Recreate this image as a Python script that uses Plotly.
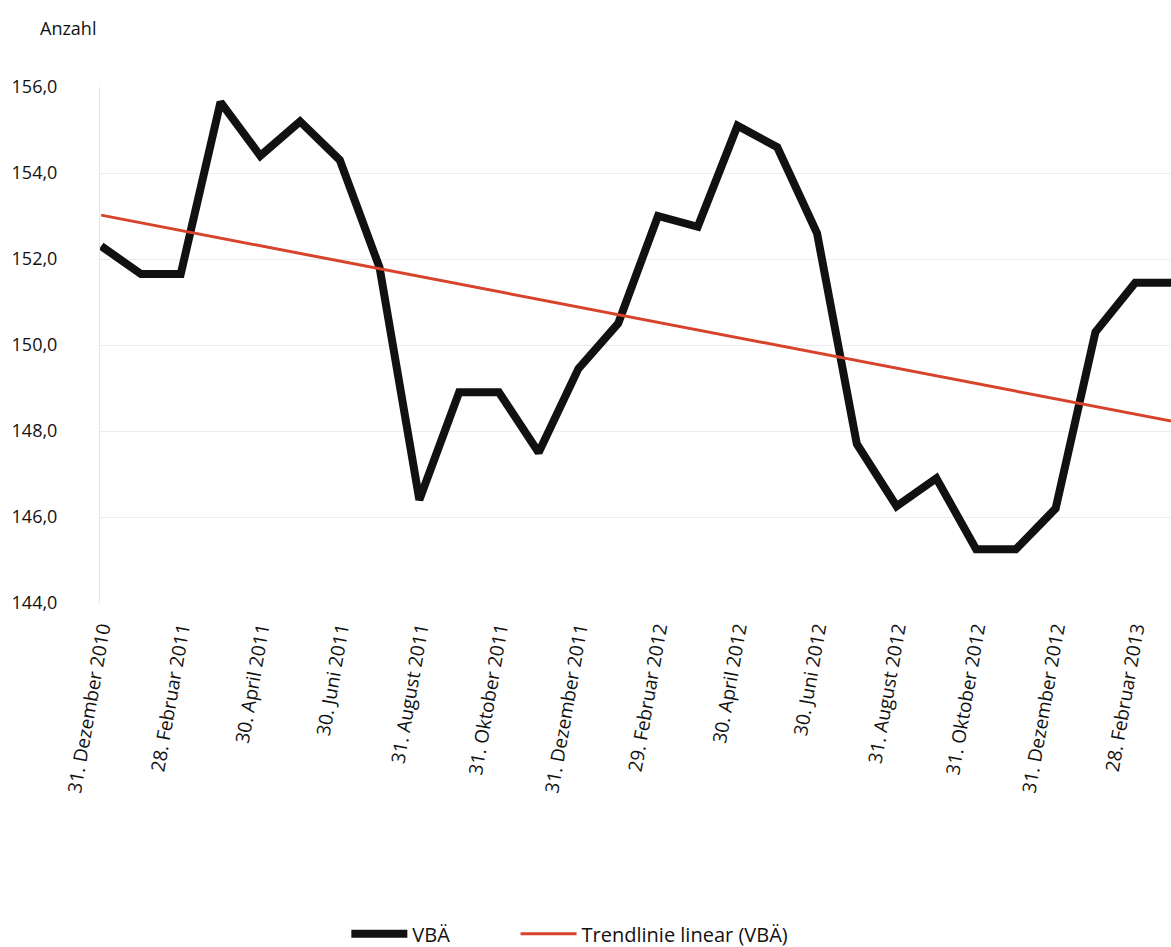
import numpy as np
import plotly.graph_objects as go

dates = [
    "31. Dezember 2010", "31. Januar 2011", "28. Februar 2011", "31. März 2011",
    "30. April 2011", "31. Mai 2011", "30. Juni 2011", "31. Juli 2011",
    "31. August 2011", "30. September 2011", "31. Oktober 2011", "30. November 2011",
    "31. Dezember 2011", "31. Januar 2012", "29. Februar 2012", "31. März 2012",
    "30. April 2012", "31. Mai 2012", "30. Juni 2012", "31. Juli 2012",
    "31. August 2012", "30. September 2012", "31. Oktober 2012", "30. November 2012",
    "31. Dezember 2012", "31. Januar 2013", "28. Februar 2013", "31. März 2013",
]
vba = [
    152.3, 151.65, 151.65, 155.65, 154.4, 155.2, 154.3, 151.8,
    146.4, 148.9, 148.9, 147.5, 149.45, 150.5, 153.0, 152.75,
    155.1, 154.6, 152.6, 147.7, 146.25, 146.9, 145.25, 145.25,
    146.2, 150.3, 151.45, 151.45,
]
trend_start = 153.02
trend_slope = -0.178
tick_dates = dates[::2]

idx = np.arange(len(vba))
trend = [trend_start + trend_slope * i for i in idx]

FONT = "Open Sans"

fig = go.Figure()
fig.add_trace(go.Scatter(
    x=dates, y=vba, mode="lines", name="VBÄ", legend="legend",
    line=dict(color="#111111", width=8),
))
fig.add_trace(go.Scatter(
    x=dates, y=trend, mode="lines", name="Trendlinie linear (VBÄ)", legend="legend2",
    line=dict(color="#d8432b", width=3),
))

fig.update_layout(
    width=1171, height=947,
    margin=dict(l=100, r=0, t=87, b=344, autoexpand=False),
    paper_bgcolor="white", plot_bgcolor="white",
    separators=",.",
    font=dict(family=FONT, size=18, color="#111111"),
    showlegend=True,
    legend=dict(orientation="h", x=0.23, xanchor="left", y=-0.641, yanchor="middle",
                font=dict(size=20), itemwidth=56, bgcolor="rgba(0,0,0,0)"),
    legend2=dict(orientation="h", x=0.388, xanchor="left", y=-0.641, yanchor="middle",
                 font=dict(size=20), itemwidth=56, bgcolor="rgba(0,0,0,0)"),
    annotations=[dict(text="Anzahl", xref="paper", yref="paper", x=-0.058, y=1.114,
                      xanchor="left", yanchor="middle", showarrow=False,
                      font=dict(size=18))],
)
fig.update_xaxes(
    type="category", range=[-0.03, 26.9],
    tickmode="array", tickvals=tick_dates, ticktext=tick_dates,
    tickangle=-80, showgrid=False, showline=False, zeroline=False,
    ticks="", tickfont=dict(size=19), ticklabelstandoff=10,
)
fig.update_yaxes(
    range=[144, 156], tickvals=[144, 146, 148, 150, 152, 154, 156], tickformat=".1f",
    showgrid=True, gridcolor="#ececec", gridwidth=1, zeroline=False,
    showline=True, linecolor="#e6e6e6", ticks="", ticklabelstandoff=38,
    tickfont=dict(size=18),
)

fig.write_html("out.html")
